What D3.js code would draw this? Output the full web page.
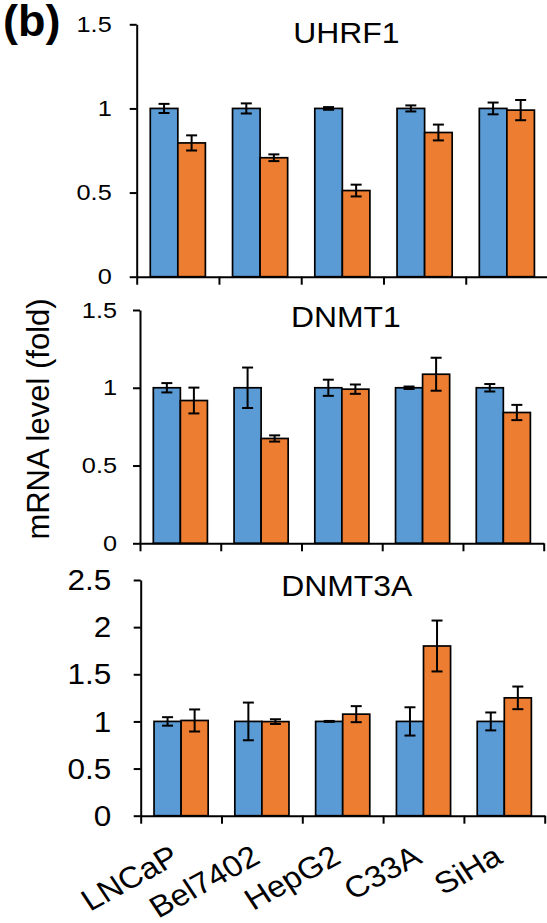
<!DOCTYPE html>
<html>
<head>
<meta charset="utf-8">
<script src="https://cdn.jsdelivr.net/npm/d3@7"></script>
<style>
body {margin: 0; background: #fff;}
svg {display: block; font-family: "Liberation Sans", Arial, sans-serif;}
</style>
</head>
<body>
<svg width="547" height="923"></svg>
<script>
let cells = ["LNCaP", "Bel7402", "HepG2", "C33A", "SiHa"];

let uhrf1Ctrl = [1, 1, 1, 1, 1];
let uhrf1CtrlErr = [0.027, 0.03, 0.008, 0.018, 0.035];
let uhrf1Treat = [0.795, 0.707, 0.512, 0.857, 0.99];
let uhrf1TreatErr = [0.045, 0.02, 0.035, 0.047, 0.06];

let dnmt1Ctrl = [1, 1, 1, 1, 1];
let dnmt1CtrlErr = [0.03, 0.13, 0.052, 0.008, 0.024];
let dnmt1Treat = [0.918, 0.674, 0.991, 1.087, 0.841];
let dnmt1TreatErr = [0.083, 0.02, 0.03, 0.106, 0.049];

let dnmt3aCtrl = [1, 1, 1, 1, 1];
let dnmt3aCtrlErr = [0.045, 0.2, 0.005, 0.15, 0.095];
let dnmt3aTreat = [1.01, 0.998, 1.077, 1.8, 1.25];
let dnmt3aTreatErr = [0.117, 0.025, 0.085, 0.27, 0.12];

let ticksSmall = [0, 0.5, 1, 1.5];
let ticksLarge = [0, 0.5, 1, 1.5, 2, 2.5];

let svg = d3.select("svg");
let blue = "#5B9BD5", orange = "#ED7D31";

let panels = [
    {title: "UHRF1", ctrl: uhrf1Ctrl, ctrlErr: uhrf1CtrlErr, treat: uhrf1Treat, treatErr: uhrf1TreatErr,
     ticks: ticksSmall, x: [136.7, 548], y: [276.7, 24.3], font: 22, sx: 1.15, pad: 18, titleY: 42.7},
    {title: "DNMT1", ctrl: dnmt1Ctrl, ctrlErr: dnmt1CtrlErr, treat: dnmt1Treat, treatErr: dnmt1TreatErr,
     ticks: ticksSmall, x: [140, 543.7], y: [543.3, 310], font: 22, sx: 1.15, pad: 16, titleY: 326.7},
    {title: "DNMT3A", ctrl: dnmt3aCtrl, ctrlErr: dnmt3aCtrlErr, treat: dnmt3aTreat, treatErr: dnmt3aTreatErr,
     ticks: ticksLarge, x: [140.7, 544.7], y: [815.7, 580], font: 30, sx: 1.05, pad: 22.5, titleY: 595.7},
];

function drawPanel(p) {
    let g = svg.append("g");
    let x = d3.scaleBand().domain(cells).range(p.x);
    let edge = d3.scaleLinear().domain([0, cells.length]).range(p.x);
    let y = d3.scaleLinear().domain([0, d3.max(p.ticks)]).range(p.y);
    let bw = x.bandwidth();
    let barW = bw * 0.335;
    let off = (bw - 2 * barW) / 2;
    let series = [
        {v: p.ctrl, e: p.ctrlErr, color: blue},
        {v: p.treat, e: p.treatErr, color: orange},
    ];
    let rows = [];
    series.forEach(function(s, k) {
        cells.forEach(function(c, i) {
            rows.push({cx: x(c) + off + k * barW, v: s.v[i], e: s.e[i], color: s.color});
        });
    });

    g.selectAll("rect").data(rows).enter().append("rect")
        .attr("x", function(d) {return d.cx})
        .attr("y", function(d) {return y(d.v)})
        .attr("width", barW)
        .attr("height", function(d) {return y(0) - y(d.v)})
        .attr("fill", function(d) {return d.color})
        .attr("stroke", "#000")
        .attr("stroke-width", 1.7);

    let eb = g.selectAll("g.err").data(rows).enter().append("g").attr("class", "err")
        .attr("stroke", "#000").attr("stroke-width", 2);
    eb.append("line")
        .attr("x1", function(d) {return d.cx + barW / 2})
        .attr("x2", function(d) {return d.cx + barW / 2})
        .attr("y1", function(d) {return y(d.v - d.e)})
        .attr("y2", function(d) {return y(d.v + d.e)});
    [-1, 1].forEach(function(sgn) {
        eb.append("line")
            .attr("x1", function(d) {return d.cx + barW / 2 - 5.5})
            .attr("x2", function(d) {return d.cx + barW / 2 + 5.5})
            .attr("y1", function(d) {return y(d.v + sgn * d.e)})
            .attr("y2", function(d) {return y(d.v + sgn * d.e)});
    });

    let ya = g.append("g").attr("transform", "translate(" + p.x[0] + ",0)")
        .call(d3.axisLeft(y).tickValues(p.ticks).tickSize(7).tickSizeOuter(0)
            .tickPadding(p.pad).tickFormat(d3.format("~g")));
    ya.attr("font-size", p.font).attr("font-family", null);
    ya.selectAll("path, line").attr("stroke", "#000").attr("stroke-width", 2);
    // the source figure's digits are a little wider than Arial
    ya.selectAll("text").attr("fill", "#000").each(function() {
        let t = d3.select(this);
        let tx = +t.attr("x");
        t.attr("x", 0).attr("transform", "translate(" + tx + ",0) scale(" + p.sx + ",1)");
    });

    let xa = g.append("g").attr("transform", "translate(0," + p.y[0] + ")")
        .call(d3.axisBottom(edge).ticks(cells.length).tickSize(8).tickSizeOuter(0).tickFormat(""));
    xa.selectAll("path, line").attr("stroke", "#000").attr("stroke-width", 2);

    g.append("text")
        .attr("transform", "translate(" + ((p.x[0] + p.x[1]) / 2 + 4) + "," + p.titleY + ") scale(1.08,1)")
        .attr("text-anchor", "middle")
        .attr("font-size", 29.5)
        .text(p.title);

    return x;
}

let xs = panels.map(drawPanel);

let xLast = xs[xs.length - 1];
svg.append("g").selectAll("text").data(cells).enter().append("text")
    .attr("transform", function(d) {
        return "translate(" + (xLast(d) + xLast.bandwidth() / 2) + ",862) scale(1.1,1) rotate(-31)";
    })
    .attr("text-anchor", "end")
    .attr("font-size", 30)
    .text(function(d) {return d});

svg.append("text")
    .attr("transform", "translate(49,419) rotate(-90)")
    .attr("text-anchor", "middle")
    .attr("font-size", 31)
    .text("mRNA level (fold)");

svg.append("text")
    .attr("x", 3)
    .attr("y", 36)
    .attr("font-size", 45)
    .attr("font-weight", "bold")
    .text("(b)");
</script>
</body>
</html>
